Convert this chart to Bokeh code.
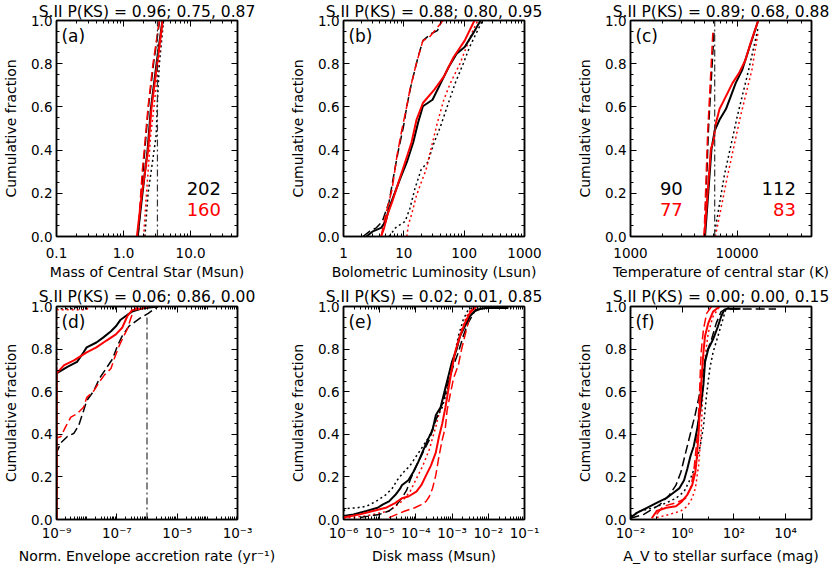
from bokeh.plotting import figure
from bokeh.layouts import gridplot
from bokeh.models import (Range1d, FixedTicker, CustomJSTickFormatter, LogAxis,
                          LinearAxis, Label, Title)
from bokeh.embed import file_html
from bokeh.resources import INLINE

# ---------------- data ----------------
titles = ["S.II P(KS) = 0.96; 0.75, 0.87", "S.II P(KS) = 0.88; 0.80, 0.95",
          "S.II P(KS) = 0.89; 0.68, 0.88", "S.II P(KS) = 0.06; 0.86, 0.00",
          "S.II P(KS) = 0.02; 0.01, 0.85", "S.II P(KS) = 0.00; 0.00, 0.15"]
xlabels = ["Mass of Central Star (Msun)", "Bolometric Luminosity (Lsun)",
           "Temperature of central star (K)", "Norm. Envelope accretion rate (yr\u207b\u00b9)",
           "Disk mass (Msun)", "A_V to stellar surface (mag)"]
panel_tags = ["(a)", "(b)", "(c)", "(d)", "(e)", "(f)"]

# panel (a)
a_blk_solid_x = [1.62, 1.9, 2.28, 2.55, 3.1, 3.8]
a_blk_solid_y = [0.0, 0.19, 0.4, 0.59, 0.8, 1.0]
a_red_solid_x = [1.58, 1.86, 2.32, 2.6, 3.17, 3.83]
a_red_solid_y = [0.0, 0.19, 0.4, 0.59, 0.8, 1.0]
a_blk_dash_x = [1.65, 1.95, 2.35, 2.8, 3.45]
a_blk_dash_y = [0.0, 0.3, 0.6, 0.8, 1.0]
a_red_dash_x = [1.63, 1.9, 2.32, 2.75, 3.42]
a_red_dash_y = [0.0, 0.3, 0.6, 0.8, 1.0]
a_blk_dot_x = [2.08, 2.32, 3.07, 3.17, 3.42, 3.95]
a_blk_dot_y = [0.0, 0.2, 0.47, 0.6, 0.8, 1.0]
a_red_dot_x = [1.99, 2.2, 2.54, 2.84, 3.31, 3.87]
a_red_dot_y = [0.0, 0.2, 0.47, 0.6, 0.8, 1.0]
a_ref_x = [3.2, 3.2]
a_ref_y = [0.0, 1.0]
a_counts = ["202", "160"]

# panel (b)
b_blk_solid_x = [2.4, 3.07, 4.2, 5.0, 5.68, 6.83, 8.7, 11.2, 14.3, 17.2, 20.7, 29.9, 40.7, 55.4, 75, 102, 139, 178, 190]
b_blk_solid_y = [0.0, 0.024, 0.04, 0.07, 0.13, 0.19, 0.268, 0.344, 0.435, 0.527, 0.603, 0.633, 0.709, 0.785, 0.846, 0.877, 0.938, 0.99, 1.0]
b_red_solid_x = [4.2, 4.72, 5.34, 6.42, 8.2, 10.5, 13.4, 16.2, 20.7, 31.8, 46.0, 66.6, 102, 148]
b_red_solid_y = [0.0, 0.04, 0.1, 0.161, 0.253, 0.344, 0.435, 0.54, 0.618, 0.679, 0.74, 0.83, 0.907, 1.0]
b_blk_dash_x = [2.1, 2.7, 3.5, 4.4, 5.7, 6.8, 8.0, 9.9, 11.2, 13.4, 17.2, 20.7, 28, 36, 43]
b_blk_dash_y = [0.0, 0.024, 0.04, 0.07, 0.161, 0.283, 0.39, 0.511, 0.603, 0.709, 0.831, 0.907, 0.938, 0.953, 1.0]
b_red_dash_x = [4.2, 5.0, 6.4, 7.7, 9.3, 11.2, 12.6, 16.1, 20.7, 26.4, 36, 44.6]
b_red_dash_y = [0.0, 0.1, 0.22, 0.374, 0.496, 0.603, 0.68, 0.8, 0.907, 0.922, 0.968, 1.0]
b_blk_dot_x = [5.7, 7.26, 10.5, 12.6, 15.2, 19.4, 24.9, 31.8, 40.6, 52.1, 70.8, 96.4, 123, 158, 202]
b_blk_dot_y = [0.0, 0.04, 0.07, 0.13, 0.22, 0.31, 0.344, 0.435, 0.51, 0.6, 0.709, 0.8, 0.877, 0.94, 1.0]
b_red_dot_x = [11.2, 11.9, 13.4, 16.2, 19.4, 23.4, 29.9, 36, 46, 58.9, 85.2, 109, 139, 168]
b_red_dot_y = [0.0, 0.055, 0.1, 0.19, 0.25, 0.31, 0.435, 0.527, 0.633, 0.709, 0.8, 0.877, 0.953, 1.0]

# panel (c)
c_blk_solid_x = [5010, 5760, 6170, 6850, 7870, 8750, 9710, 11160, 13100, 15810]
c_blk_solid_y = [0.0, 0.405, 0.49, 0.54, 0.59, 0.65, 0.71, 0.77, 0.877, 1.0]
c_red_solid_x = [4935, 5680, 6080, 6230, 6850, 7350, 9060, 10400, 11960, 13290, 15810]
c_red_solid_y = [0.0, 0.405, 0.45, 0.51, 0.59, 0.62, 0.71, 0.755, 0.816, 0.89, 1.0]
c_blk_dash_x = [4950, 5400, 6100]
c_blk_dash_y = [0.0, 0.5, 0.96]
c_red_dash_x = [4900, 5300, 5950]
c_red_dash_y = [0.0, 0.48, 0.96]
c_blk_dot_x = [6080, 7600, 10060, 12830, 15810]
c_blk_dot_y = [0.0, 0.283, 0.557, 0.77, 0.968]
c_red_dot_x = [6260, 8160, 10780, 13770, 15810]
c_red_dot_y = [0.0, 0.283, 0.557, 0.77, 0.95]
c_ref_x = [6170, 6170]
c_ref_y = [0.0, 1.0]
c_counts_left = ["90", "77"]
c_counts_right = ["112", "83"]

# panel (d)
d_blk_solid_x = [1e-9, 1e-9, 2.3e-9, 4.8e-9, 7.9e-9, 1.0e-8, 2.1e-8, 3.5e-8, 6.4e-8, 9.3e-8, 1.34e-7, 2.2e-7, 3.2e-7, 6.7e-7, 2.3e-6]
d_blk_solid_y = [0.0, 0.686, 0.717, 0.74, 0.785, 0.808, 0.831, 0.854, 0.884, 0.907, 0.938, 0.96, 0.976, 0.99, 1.0]
d_red_solid_x = [1e-9, 1e-9, 1.8e-9, 3.8e-9, 1.0e-8, 2.1e-8, 4.4e-8, 9.3e-8, 1.5e-7, 2.2e-7, 3.2e-7, 6.7e-7, 1.1e-6]
d_red_solid_y = [0.0, 0.686, 0.725, 0.747, 0.785, 0.808, 0.839, 0.869, 0.9, 0.953, 0.983, 0.99, 1.0]
d_blk_dash_x = [1e-9, 1e-9, 1.4e-9, 2.3e-9, 3.8e-9, 5.5e-9, 7.9e-9, 1.0e-8, 1.7e-8, 2.7e-8, 4.4e-8, 7.3e-8, 1.05e-7, 1.5e-7, 2.5e-7, 5.9e-7, 1.1e-6, 2.3e-6]
d_blk_dash_y = [0.0, 0.314, 0.36, 0.39, 0.405, 0.443, 0.511, 0.557, 0.603, 0.664, 0.709, 0.755, 0.816, 0.861, 0.907, 0.945, 0.968, 1.0]
d_red_dash_x = [1e-9, 1e-9, 1.4e-9, 2.0e-9, 3.0e-9, 4.8e-9, 7.9e-9, 1.0e-8, 1.7e-8, 2.7e-8, 3.9e-8, 6.4e-8, 8.2e-8, 1.2e-7, 1.7e-7, 2.2e-7, 2.8e-7, 3.6e-7, 5.2e-7]
d_red_dash_y = [0.0, 0.382, 0.39, 0.435, 0.481, 0.496, 0.527, 0.572, 0.603, 0.648, 0.679, 0.709, 0.755, 0.816, 0.861, 0.892, 0.938, 0.983, 1.0]
d_blk_dot_x = [1e-9, 1e-9, 4e-9, 5e-9]
d_blk_dot_y = [0.0, 0.99, 0.99, 1.0]
d_red_dot_x = [1e-9, 1e-9, 1.0e-8, 1.2e-8]
d_red_dot_y = [0.0, 0.985, 0.985, 1.0]
d_ref_x = [1e-6, 1e-6]
d_ref_y = [0.0, 0.96]

# panel (e)
e_blk_solid_x = [1e-6, 1.89e-6, 4.3e-6, 8.8e-6, 1.2e-5, 1.81e-5, 2.72e-5, 3.7e-5, 4.1e-5, 6.18e-5, 8.42e-5, 1.15e-4, 1.56e-4, 2.12e-4, 2.88e-4, 3.54e-4, 4.82e-4, 6.55e-4, 8.05e-4, 9.89e-4, 1.34e-3, 1.65e-3, 2.25e-3, 3.05e-3, 4.6e-3, 8.5e-3, 3.6e-2]
e_blk_solid_y = [0.017, 0.024, 0.04, 0.055, 0.07, 0.085, 0.116, 0.146, 0.161, 0.184, 0.222, 0.268, 0.321, 0.374, 0.42, 0.489, 0.527, 0.618, 0.679, 0.74, 0.8, 0.861, 0.907, 0.953, 0.985, 0.993, 0.993]
e_red_solid_x = [1e-6, 2.85e-6, 6.5e-6, 1.47e-5, 2.72e-5, 4.1e-5, 6.2e-5, 1.03e-4, 1.41e-4, 1.91e-4, 2.6e-4, 3.54e-4, 4.35e-4, 5.34e-4, 6.55e-4, 8.05e-4, 9.89e-4, 1.21e-3, 1.65e-3, 2.25e-3, 3.05e-3, 4.6e-3]
e_red_solid_y = [0.009, 0.024, 0.04, 0.055, 0.078, 0.1, 0.108, 0.131, 0.161, 0.207, 0.253, 0.314, 0.39, 0.45, 0.527, 0.618, 0.709, 0.785, 0.861, 0.922, 0.968, 1.0]
e_blk_dash_x = [2.85e-6, 9.8e-6, 1.81e-5, 2.72e-5, 4.1e-5, 5.6e-5, 6.9e-5, 1.03e-4, 1.56e-4, 2.35e-4, 3.54e-4, 5.34e-4, 8.05e-4, 1.1e-3, 1.49e-3, 2.03e-3, 2.76e-3, 4.16e-3, 6.95e-3, 4.4e-2]
e_blk_dash_y = [0.009, 0.024, 0.04, 0.062, 0.1, 0.139, 0.184, 0.253, 0.314, 0.374, 0.466, 0.542, 0.648, 0.725, 0.785, 0.861, 0.922, 0.976, 0.993, 0.993]
e_red_dash_x = [1.81e-5, 5.0e-5, 9.3e-5, 1.41e-4, 1.91e-4, 2.35e-4, 2.88e-4, 3.54e-4, 4.35e-4, 5.34e-4, 6.55e-4, 7.26e-4, 8.9e-4, 1.1e-3, 1.49e-3, 1.83e-3, 2.25e-3, 2.76e-3, 3.4e-3, 5.1e-3]
e_red_dash_y = [0.009, 0.04, 0.055, 0.07, 0.085, 0.108, 0.146, 0.207, 0.298, 0.374, 0.435, 0.511, 0.588, 0.664, 0.725, 0.8, 0.861, 0.922, 0.983, 1.0]
e_blk_dot_x = [1e-6, 1.25e-6, 2.32e-6, 4.3e-6, 7.9e-6, 1.47e-5, 2.22e-5, 3.02e-5, 4.55e-5, 6.86e-5, 1.03e-4, 1.56e-4, 2.35e-4, 3.54e-4, 5.34e-4, 7.26e-4, 9.89e-4, 1.21e-3, 1.49e-3, 2.03e-3, 2.76e-3, 4.16e-3]
e_blk_dot_y = [0.04, 0.052, 0.055, 0.062, 0.085, 0.116, 0.146, 0.184, 0.222, 0.253, 0.298, 0.344, 0.39, 0.466, 0.527, 0.603, 0.709, 0.785, 0.861, 0.938, 0.983, 1.0]
e_red_dot_x = [1e-6, 4.3e-6, 1.81e-5, 4.1e-5, 6.9e-5, 1.03e-4, 1.56e-4, 2.35e-4, 3.54e-4, 5.34e-4, 7.26e-4, 9.9e-4, 1.34e-3, 1.83e-3, 2.49e-3, 3.4e-3, 4.6e-3]
e_red_dot_y = [0.006, 0.017, 0.04, 0.085, 0.131, 0.192, 0.253, 0.329, 0.435, 0.557, 0.633, 0.725, 0.816, 0.892, 0.953, 0.99, 1.0]

# panel (f)
f_blk_solid_x = [0.01, 0.0183, 0.0433, 0.1025, 0.243, 0.431, 0.766, 1.18, 1.57, 2.09, 2.79, 3.72, 4.96, 6.61, 7.63, 10.2, 15.6, 24.1, 32.1, 42.8, 57, 180]
f_blk_solid_y = [0.009, 0.032, 0.055, 0.078, 0.1, 0.123, 0.146, 0.184, 0.237, 0.298, 0.344, 0.42, 0.511, 0.633, 0.74, 0.8, 0.846, 0.907, 0.953, 0.985, 0.99, 0.99]
f_red_solid_x = [0.0666, 0.1025, 0.243, 0.574, 0.979, 1.57, 2.42, 3.22, 3.72, 4.3, 4.96, 5.72, 6.61, 7.63, 10.2, 15.6, 27.8]
f_red_solid_y = [0.006, 0.04, 0.055, 0.062, 0.085, 0.116, 0.161, 0.222, 0.298, 0.405, 0.557, 0.679, 0.785, 0.861, 0.922, 0.976, 1.0]
f_blk_dash_x = [0.01, 0.0325, 0.137, 0.324, 0.574, 0.884, 1.36, 2.09, 3.22, 4.96, 6.61, 8.81, 13.6, 20.8, 32.1, 49.4, 4250]
f_blk_dash_y = [0.006, 0.024, 0.07, 0.116, 0.161, 0.222, 0.314, 0.405, 0.496, 0.603, 0.709, 0.785, 0.846, 0.922, 0.976, 0.988, 0.988]
f_red_dash_x = [0.1025, 0.182, 0.574, 1.36, 2.09, 2.79, 3.41, 4.05, 4.55, 4.96, 5.4, 6.61, 8.81, 13.6]
f_red_dash_y = [0.024, 0.062, 0.078, 0.1, 0.146, 0.222, 0.329, 0.435, 0.557, 0.679, 0.785, 0.892, 0.968, 1.0]
f_blk_dot_x = [0.01, 0.0244, 0.0769, 0.243, 0.574, 1.18, 2.09, 3.22, 4.96, 6.61, 8.81, 11.7, 15.6, 24.1, 37.0, 49.4, 65.8]
f_blk_dot_y = [0.017, 0.04, 0.055, 0.078, 0.1, 0.131, 0.192, 0.253, 0.344, 0.435, 0.588, 0.709, 0.785, 0.861, 0.938, 0.99, 1.0]
f_red_dot_x = [0.1025, 0.324, 0.884, 1.57, 2.42, 3.22, 4.3, 5.4, 6.06, 6.8, 8.08, 10.2, 15.6, 27.8]
f_red_dot_y = [0.009, 0.024, 0.04, 0.062, 0.1, 0.146, 0.253, 0.405, 0.557, 0.679, 0.785, 0.877, 0.953, 1.0]

# axis ranges and tick values
x_ranges = [(0.1, 50), (1, 1000), (1000, 50000), (1e-9, 1e-3), (1e-6, 1e-1), (1e-2, 1e5)]
x_major = [[0.1, 1, 10], [1, 10, 100, 1000], [1000, 10000],
           [1e-9, 1e-7, 1e-5, 1e-3], [1e-6, 1e-5, 1e-4, 1e-3, 1e-2, 1e-1],
           [1e-2, 1e0, 1e2, 1e4]]
y_major = [0.0, 0.2, 0.4, 0.6, 0.8, 1.0]
y_minor = [i / 20 for i in range(21)]

# ---------------- styling ----------------
BLACK = "#000000"
RED = "#ff0000"
FONT = "DejaVu Sans"

def decade_minors(lo_exp, hi_exp):
    return [m * 10.0 ** k for k in range(lo_exp, hi_exp) for m in range(2, 10)]

x_minor = [decade_minors(-1, 2), decade_minors(0, 3), decade_minors(3, 5),
           decade_minors(-9, -3) + [1e-8, 1e-6, 1e-4], decade_minors(-6, -1),
           [1e-1, 1e1, 1e3, 1e5]]

fmt_fixed1 = CustomJSTickFormatter(code="return tick.toFixed(1);")
fmt_fixed0 = CustomJSTickFormatter(code="return tick.toFixed(0);")
SUP_JS = """
const e = Math.round(Math.log10(tick));
const m = {"-":"\\u207b","0":"\\u2070","1":"\\u00b9","2":"\\u00b2","3":"\\u00b3",
           "4":"\\u2074","5":"\\u2075","6":"\\u2076","7":"\\u2077","8":"\\u2078","9":"\\u2079"};
return "10" + String(e).split("").map(c => m[c]).join("");
"""
x_formatters = ["f1", "f0", "f0", "sup", "sup", "sup"]

# layout (page has no margin: canvas pixels == picture pixels)
col_w = [287, 287, 256]
col_lb = [50, 50, 50]
col_rb = [50, 50, 19]
row_h = [282, 284]
row_tb = [18, 24]
row_bb = [45, 41]
row_xtick_standoff = [11, 5]
row_xlabel_standoff = [3, 4]
row_title_standoff = [0, 2]
col_title_offset = [-3, 0, -2]

def style_axis(ax, labels=True):
    ax.major_tick_in = 6
    ax.major_tick_out = 0
    ax.minor_tick_in = 3
    ax.minor_tick_out = 0
    ax.axis_line_color = BLACK
    ax.axis_line_width = 1.5
    ax.major_tick_line_color = BLACK
    ax.minor_tick_line_color = BLACK
    ax.major_tick_line_width = 1
    ax.minor_tick_line_width = 1
    if labels:
        ax.major_label_text_font = FONT
        ax.major_label_text_font_size = "13.5px"
        ax.major_label_text_color = BLACK
        ax.axis_label_text_font = FONT
        ax.axis_label_text_font_style = "normal"
        ax.axis_label_text_color = BLACK
        ax.axis_label_text_font_size = "14px"
    else:
        ax.major_label_text_font_size = "0px"
        ax.major_label_standoff = 0
        ax.formatter = CustomJSTickFormatter(code="return '';")


def make_panel(idx, curves, refline=None):
    r, c = divmod(idx, 3)
    lo, hi = x_ranges[idx]
    p = figure(width=col_w[c], height=row_h[r], x_axis_type="log",
               x_range=Range1d(lo, hi), y_range=Range1d(0, 1),
               output_backend="svg", toolbar_location=None, title=None,
               min_border_left=col_lb[c], min_border_right=col_rb[c],
               min_border_top=row_tb[r], min_border_bottom=row_bb[r])
    p.xgrid.visible = False
    p.ygrid.visible = False
    p.outline_line_color = BLACK
    p.outline_line_width = 1.5
    p.background_fill_color = "white"
    p.border_fill_color = "white"

    xa = p.xaxis[0]
    xa.ticker = FixedTicker(ticks=x_major[idx], minor_ticks=x_minor[idx])
    kind = x_formatters[idx]
    xa.formatter = fmt_fixed1 if kind == "f1" else (fmt_fixed0 if kind == "f0" else CustomJSTickFormatter(code=SUP_JS))
    style_axis(xa)
    xa.axis_label = xlabels[idx]
    xa.major_label_standoff = row_xtick_standoff[r]
    xa.axis_label_standoff = row_xlabel_standoff[r]

    ya = p.yaxis[0]
    ya.ticker = FixedTicker(ticks=y_major, minor_ticks=y_minor)
    ya.formatter = fmt_fixed1
    style_axis(ya)
    ya.axis_label = "Cumulative fraction"
    ya.major_label_standoff = 4
    ya.axis_label_standoff = 9

    top = LogAxis(ticker=FixedTicker(ticks=x_major[idx], minor_ticks=x_minor[idx]))
    style_axis(top, labels=False)
    p.add_layout(top, "above")
    right = LinearAxis(ticker=FixedTicker(ticks=y_major, minor_ticks=y_minor))
    style_axis(right, labels=False)
    p.add_layout(right, "right")

    # panel title above the frame (added after the top axis so it sits outside it)
    t = Title(text=titles[idx], align="center", standoff=row_title_standoff[r],
              offset=col_title_offset[c])
    t.text_font = FONT
    t.text_font_size = "15.5px"
    t.text_font_style = "normal"
    t.text_color = BLACK
    p.add_layout(t, "above")

    styles = {
        "solid": dict(line_width=2.0),
        "dash": dict(line_width=1.5, line_dash="9 4"),
        "dot": dict(line_width=1.5, line_dash="2 3"),
    }
    for xs, ys, color, style in curves:
        p.line(xs, ys, line_color=color, **styles[style])
    if refline is not None:
        p.line(refline[0], refline[1], line_color="#333333", line_width=1.2,
               line_dash="7 3 2 3")

    tx = lo * (hi / lo) ** 0.027
    p.add_layout(Label(x=tx, y=0.975, text=panel_tags[idx], text_font=FONT,
                       text_font_size="17px", text_baseline="top",
                       text_align="left", text_color=BLACK))
    return p


def count_labels(p, idx, t, texts):
    lo, hi = x_ranges[idx]
    xx = lo * (hi / lo) ** t
    for txt, yy, col in zip(texts, [0.224, 0.123], [BLACK, RED]):
        p.add_layout(Label(x=xx, y=yy, text=txt, text_font=FONT, text_font_size="18px",
                           text_baseline="middle", text_align="right", text_color=col))


pa = make_panel(0, [
    (a_blk_dot_x, a_blk_dot_y, BLACK, "dot"), (a_red_dot_x, a_red_dot_y, RED, "dot"),
    (a_blk_dash_x, a_blk_dash_y, BLACK, "dash"), (a_red_dash_x, a_red_dash_y, RED, "dash"),
    (a_blk_solid_x, a_blk_solid_y, BLACK, "solid"), (a_red_solid_x, a_red_solid_y, RED, "solid"),
], refline=(a_ref_x, a_ref_y))
count_labels(pa, 0, 0.909, a_counts)

pb = make_panel(1, [
    (b_blk_dot_x, b_blk_dot_y, BLACK, "dot"), (b_red_dot_x, b_red_dot_y, RED, "dot"),
    (b_blk_dash_x, b_blk_dash_y, BLACK, "dash"), (b_red_dash_x, b_red_dash_y, RED, "dash"),
    (b_blk_solid_x, b_blk_solid_y, BLACK, "solid"), (b_red_solid_x, b_red_solid_y, RED, "solid"),
])

pc = make_panel(2, [
    (c_blk_dot_x, c_blk_dot_y, BLACK, "dot"), (c_red_dot_x, c_red_dot_y, RED, "dot"),
    (c_blk_dash_x, c_blk_dash_y, BLACK, "dash"), (c_red_dash_x, c_red_dash_y, RED, "dash"),
    (c_blk_solid_x, c_blk_solid_y, BLACK, "solid"), (c_red_solid_x, c_red_solid_y, RED, "solid"),
], refline=(c_ref_x, c_ref_y))
count_labels(pc, 2, 0.289, c_counts_left)
count_labels(pc, 2, 0.914, c_counts_right)

pd_ = make_panel(3, [
    (d_blk_dot_x, d_blk_dot_y, BLACK, "dot"), (d_red_dot_x, d_red_dot_y, RED, "dot"),
    (d_blk_dash_x, d_blk_dash_y, BLACK, "dash"), (d_red_dash_x, d_red_dash_y, RED, "dash"),
    (d_blk_solid_x, d_blk_solid_y, BLACK, "solid"), (d_red_solid_x, d_red_solid_y, RED, "solid"),
], refline=(d_ref_x, d_ref_y))

pe = make_panel(4, [
    (e_blk_dot_x, e_blk_dot_y, BLACK, "dot"), (e_red_dot_x, e_red_dot_y, RED, "dot"),
    (e_blk_dash_x, e_blk_dash_y, BLACK, "dash"), (e_red_dash_x, e_red_dash_y, RED, "dash"),
    (e_blk_solid_x, e_blk_solid_y, BLACK, "solid"), (e_red_solid_x, e_red_solid_y, RED, "solid"),
])

pf = make_panel(5, [
    (f_blk_dot_x, f_blk_dot_y, BLACK, "dot"), (f_red_dot_x, f_red_dot_y, RED, "dot"),
    (f_blk_dash_x, f_blk_dash_y, BLACK, "dash"), (f_red_dash_x, f_red_dash_y, RED, "dash"),
    (f_blk_solid_x, f_blk_solid_y, BLACK, "solid"), (f_red_solid_x, f_red_solid_y, RED, "solid"),
])

grid = gridplot([[pa, pb, pc], [pd_, pe, pf]], toolbar_location=None)

with open("out.html", "w") as fh:
    fh.write(file_html(grid, INLINE))
